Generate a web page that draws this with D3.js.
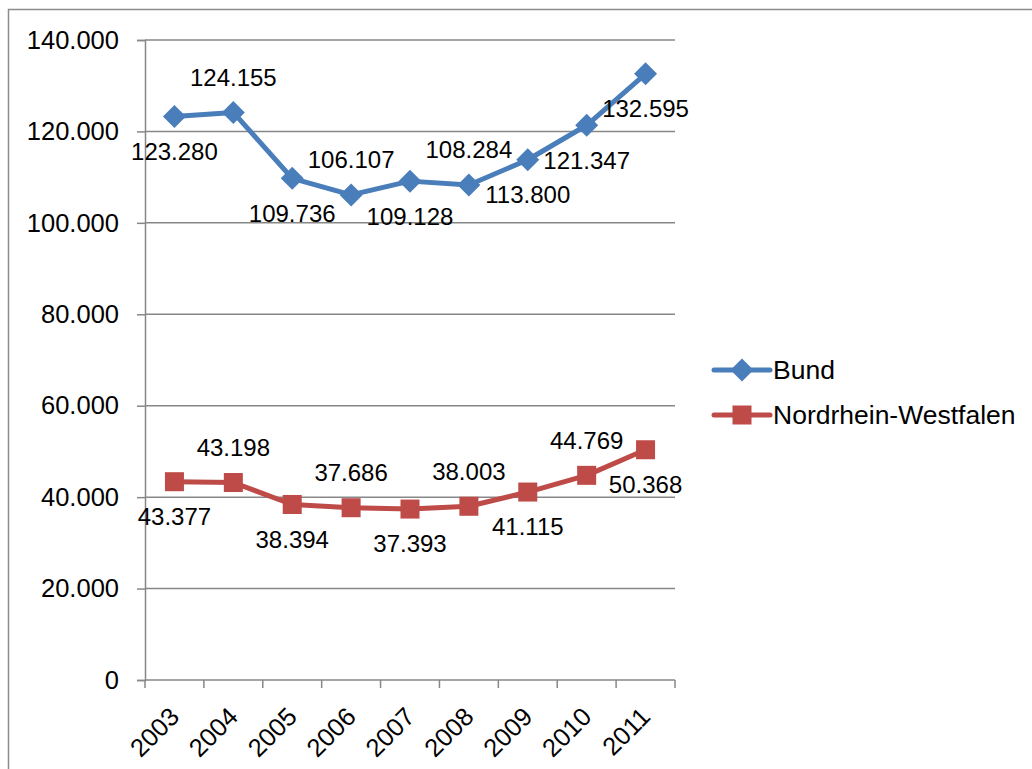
<!DOCTYPE html>
<html><head><meta charset="utf-8">
<script src="https://cdn.jsdelivr.net/npm/d3@7"></script>
<style>body{margin:0;background:#fff}svg{display:block}text{font-family:"Liberation Sans",Arial,sans-serif;fill:#000}</style>
</head><body>
<svg id="c" width="1032" height="769"></svg>
<script>
const years = ["2003","2004","2005","2006","2007","2008","2009","2010","2011"];
const bund = [123280,124155,109736,106107,109128,108284,113800,121347,132595];
const nrw = [43377,43198,38394,37686,37393,38003,41115,44769,50368];
const bundLabelPos = ["below","above","below","above","below","above","below","below","below"];
const nrwLabelPos = ["below","above","below","above","below","above","below","above","below"];
const yTicks = [0,20000,40000,60000,80000,100000,120000,140000];
const seriesNames = ["Bund","Nordrhein-Westfalen"];

const svg = d3.select("#c");
const fmtK = v => { if(v===0) return "0"; const s = d3.format(",")(v); return s.replace(/,/g,"."); };

svg.append("rect").attr("x",8.5).attr("y",9.5).attr("width",1100).attr("height",900)
  .attr("fill","none").attr("stroke","#8c8c8c").attr("stroke-width",1.5);

const L=145,R=675,T=40,B=680;
const x = d3.scaleBand().domain(years).range([L,R]);
const y = d3.scaleLinear().domain([0,140000]).range([B,T]);
const grey="#878787";

// gridlines
svg.append("g").selectAll("line").data(yTicks.filter(d=>d>0)).join("line")
  .attr("x1",L).attr("x2",R).attr("y1",d=>y(d)).attr("y2",d=>y(d))
  .attr("stroke",grey).attr("stroke-width",1.5);

// y axis
const ya = svg.append("g").attr("transform",`translate(${L},0)`)
  .call(d3.axisLeft(y).tickValues(yTicks).tickSize(8).tickPadding(18).tickFormat(fmtK));
ya.select(".domain").attr("stroke",grey).attr("stroke-width",1.5);
ya.selectAll(".tick line").attr("stroke",grey).attr("stroke-width",1.5);
ya.selectAll("text").attr("font-size",25.5).attr("font-family","Liberation Sans, Arial, sans-serif").attr("fill","#000");

// x axis
const xa = svg.append("g").attr("transform",`translate(0,${B})`);
xa.append("line").attr("x1",L).attr("x2",R).attr("stroke",grey).attr("stroke-width",1.5);
const bounds = d3.range(years.length+1).map(i=>L+i*x.step());
xa.selectAll("line.t").data(bounds).join("line").attr("class","t")
  .attr("x1",d=>d).attr("x2",d=>d).attr("y1",0).attr("y2",8).attr("stroke",grey).attr("stroke-width",1.5);
xa.selectAll("text").data(years).join("text")
  .attr("transform",d=>`translate(${x(d)+x.bandwidth()/2},${32}) rotate(-45)`)
  .attr("text-anchor","end").attr("dy","0.35em").attr("font-size",25.5).text(d=>d);

const cx = d => x(d)+x.bandwidth()/2;
const series = [
  {name:seriesNames[0], vals:bund, pos:bundLabelPos, color:"#4a7ebb", marker:"diamond"},
  {name:seriesNames[1], vals:nrw, pos:nrwLabelPos, color:"#be4b48", marker:"square"}
];
const line = d3.line().x((d,i)=>cx(years[i])).y(d=>y(d));
function marker(g, type, color){
  if(type==="diamond") g.append("path").attr("d","M0,-11.5L11.5,0L0,11.5L-11.5,0Z").attr("fill",color);
  else g.append("rect").attr("x",-9.5).attr("y",-9.5).attr("width",19).attr("height",19).attr("fill",color);
}
series.forEach(s=>{
  svg.append("path").datum(s.vals).attr("d",line).attr("fill","none")
    .attr("stroke",s.color).attr("stroke-width",5).attr("stroke-linejoin","round");
  s.vals.forEach((v,i)=>{
    const g = svg.append("g").attr("transform",`translate(${cx(years[i])},${y(v)})`);
    marker(g,s.marker,s.color);
  });
  svg.append("g").selectAll("text").data(s.vals).join("text")
    .attr("x",(d,i)=>cx(years[i])).attr("y",(d,i)=>y(d)+(s.pos[i]==="above"?-35:35))
    .attr("dy","0.35em").attr("text-anchor","middle").attr("font-size",24).text(d=>fmtK(d));
});

// legend
series.forEach((s,i)=>{
  const ly = 370 + i*45;
  svg.append("line").attr("x1",714).attr("x2",770).attr("y1",ly).attr("y2",ly)
    .attr("stroke",s.color).attr("stroke-width",5).attr("stroke-linecap","round");
  const g = svg.append("g").attr("transform",`translate(742,${ly})`);
  marker(g,s.marker,s.color);
  svg.append("text").attr("x",773).attr("y",ly).attr("dy","0.35em").attr("font-size",26.5).text(s.name);
});
</script>
</body></html>
